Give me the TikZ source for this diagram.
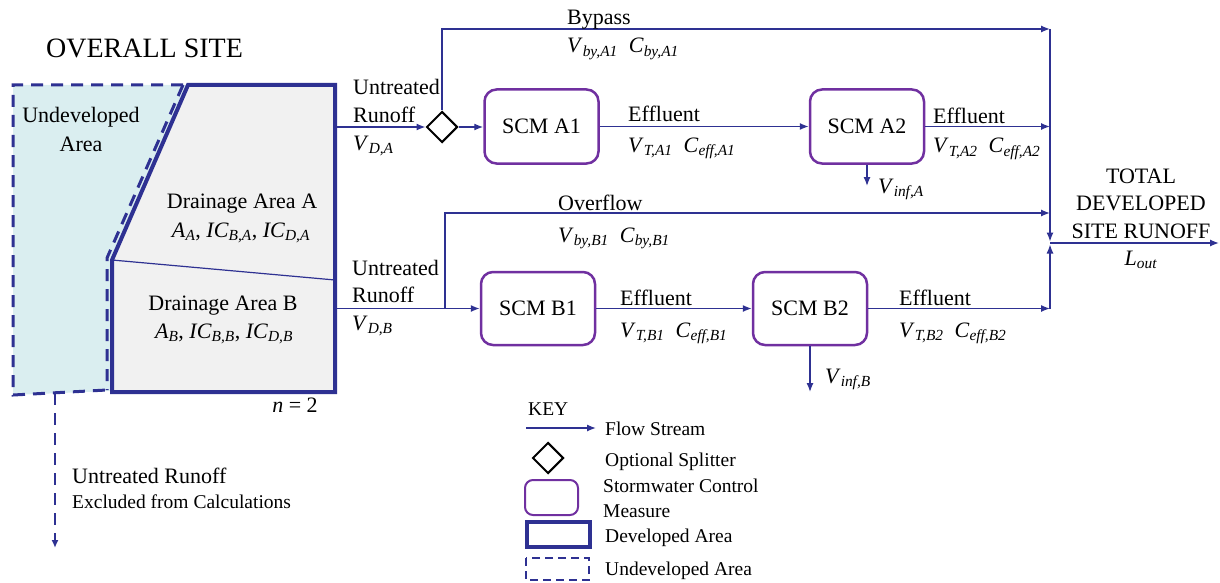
\documentclass[tikz,border=0pt]{standalone}
\usepackage{fontspec}
\setmainfont{LiberationSerif-Regular.ttf}[ItalicFont=LiberationSerif-Italic.ttf, BoldFont=LiberationSerif-Bold.ttf, BoldItalicFont=LiberationSerif-BoldItalic.ttf]
\usetikzlibrary{arrows.meta,shapes.geometric}
\definecolor{navy}{RGB}{46,49,146}
\definecolor{purp}{RGB}{112,48,160}
\definecolor{ltblue}{RGB}{218,238,240}
\definecolor{ltgray}{RGB}{241,241,241}
\newcommand\vv[2]{\textit{#1}\textsubscript{\textit{#2}}}
\begin{document}
\begin{tikzpicture}[x=1pt,y=-1pt,
  txt/.style={font=\fontsize{22}{26}\selectfont, inner sep=0pt},
  keytxt/.style={font=\fontsize{19.5}{23}\selectfont, inner sep=0pt},
  flow/.style={draw=navy, line width=1.3pt, -{Latex[length=9pt,width=7pt]}},
  scm/.style={draw=purp, line width=2.5pt, rounded corners=12pt, minimum width=114pt, minimum height=74pt, inner sep=0pt, font=\fontsize{22}{26}\selectfont},
  split/.style={diamond, draw=black, line width=2pt, minimum size=31pt, inner sep=0pt}]
\useasboundingbox (0,0) rectangle (1220,583);

% ---------- site ----------
\fill[ltblue] (13,85) -- (186,85) -- (110,260) -- (110,391) -- (13,395) -- cycle;
\draw[navy, line width=4pt, fill=ltgray, line join=miter] (188,85) -- (335,85) -- (335,392) -- (112,392) -- (112,260) -- cycle;
\draw[navy, line width=1.2pt] (112,260) -- (335,280);
\draw[navy, line width=3pt, dash pattern=on 12pt off 8pt] (183,85) -- (13,85) -- (13,395) -- (107,390);
\draw[navy, line width=3pt, dash pattern=on 12pt off 8pt] (183,85) -- (107,258) -- (107,390);
\coordinate (undevOut) at (55,393);
\coordinate (undevEnd) at (55,548);
\draw[navy, line width=2pt, dash pattern=on 12pt off 8pt, -{Latex[length=8pt,width=7pt]}] (undevOut) -- (undevEnd);

\node[txt, font=\fontsize{28}{32}\selectfont, anchor=base west] (title) at (46,58) {OVERALL SITE};
\node[txt, anchor=base] (undev1) at (81,123) {Undeveloped};
\node[txt, anchor=base] (undev2) at (81,151) {Area};
\node[txt, anchor=base] (daA) at (242,208) {Drainage Area A};
\node[txt, anchor=base] (daAp) at (241,237) {\vv{A}{A}, \vv{IC}{B,A}, \vv{IC}{D,A}};
\node[txt, anchor=base] (daB) at (223,310) {Drainage Area B};
\node[txt, anchor=base] (daBp) at (224,338) {\vv{A}{B}, \vv{IC}{B,B}, \vv{IC}{D,B}};
\node[txt, anchor=base] (nn) at (295,412) {\textit{n} = 2};
\node[txt, anchor=base west] (excl1) at (72,483) {Untreated Runoff};
\node[keytxt, anchor=base west] (excl2) at (72,508) {Excluded from Calculations};

% ---------- stream A ----------
\coordinate (devA) at (335,127);
\node[split] (split) at (442,127) {};
\node[scm] (A1) at (541.5,126.5) {SCM A1};
\node[scm] (A2) at (867,126.5) {SCM A2};
\coordinate (J) at (1050,243);
\coordinate (byA) at (1050,29);
\coordinate (infA) at (867,186);

\draw[flow] (devA) -- (split.west);
\draw[flow] (split.east) -- (split.east -| A1.west);
\draw[flow] (split.north) |- (byA);
\draw[flow] (A1.east) -- (A2.west);
\draw[flow] (A2.east) -- (A2.east -| J);
\draw[flow] (A2.south) -- (infA);

\node[txt, anchor=base west] (unA1) at (353,95) {Untreated};
\node[txt, anchor=base west] (unA2) at (353,123) {Runoff};
\node[txt, anchor=base west] (vdA) at (353,150) {\vv{V}{D,A}};
\node[txt, anchor=base west] (byL) at (567,25) {Bypass};
\node[txt, anchor=base west] (byV) at (567,53) {\vv{V}{by,A1}\enspace\vv{C}{by,A1}};
\node[txt, anchor=base west] (efA1) at (628,122) {Effluent};
\node[txt, anchor=base west] (efA1v) at (628,152) {\vv{V}{T,A1}\enspace\vv{C}{eff,A1}};
\node[txt, anchor=base west] (efA2) at (933,124) {Effluent};
\node[txt, anchor=base west] (efA2v) at (933,153) {\vv{V}{T,A2}\enspace\vv{C}{eff,A2}};
\node[txt, anchor=base west] (infAl) at (878,193) {\vv{V}{inf,A}};

% ---------- stream B ----------
\coordinate (devB) at (335,308.5);
\coordinate (ovB) at (445,308.5);
\coordinate (ovEnd) at (1050,213);
\node[scm, minimum height=73pt] (B1) at (538,308.5) {SCM B1};
\node[scm, minimum height=73pt] (B2) at (810,308.5) {SCM B2};
\coordinate (infB) at (810,392);

\draw[flow] (devB) -- (B1.west);
\draw[flow] (ovB) |- (ovEnd);
\draw[flow] (B1.east) -- (B2.west);
\draw[flow] (B2.east) -- (B2.east -| J);
\draw[flow] (B2.south) -- (infB);

\node[txt, anchor=base west] (unB1) at (352,275) {Untreated};
\node[txt, anchor=base west] (unB2) at (352,302) {Runoff};
\node[txt, anchor=base west] (vdB) at (352,330) {\vv{V}{D,B}};
\node[txt, anchor=base west] (ovL) at (558,210) {Overflow};
\node[txt, anchor=base west] (ovV) at (558,242) {\vv{V}{by,B1}\enspace\vv{C}{by,B1}};
\node[txt, anchor=base west] (efB1) at (620,305) {Effluent};
\node[txt, anchor=base west] (efB1v) at (620,337) {\vv{V}{T,B1}\enspace\vv{C}{eff,B1}};
\node[txt, anchor=base west] (efB2) at (899,305) {Effluent};
\node[txt, anchor=base west] (efB2v) at (899,337) {\vv{V}{T,B2}\enspace\vv{C}{eff,B2}};
\node[txt, anchor=base west] (infBl) at (825,383) {\vv{V}{inf,B}};

% ---------- collector ----------
\coordinate (out) at (1219,243);
\draw[flow, shorten >=1.5pt] (byA) -- (J);
\draw[flow, shorten >=1.5pt] (J |- B2.east) -- (J);
\draw[flow] (J) -- (out);
\node[txt, anchor=base] (tot1) at (1141,183) {TOTAL};
\node[txt, anchor=base] (tot2) at (1141,210) {DEVELOPED};
\node[txt, anchor=base] (tot3) at (1141,238) {SITE RUNOFF};
\node[txt, anchor=base] (lout) at (1141,265) {\vv{L}{out}};

% ---------- key ----------
\node[keytxt, anchor=base west] (key) at (528,415) {KEY};
\coordinate (kf1) at (526,428);
\coordinate (kf2) at (596,428);
\draw[flow] (kf1) -- (kf2);
\node[keytxt, anchor=base west] (k1) at (605,435) {Flow Stream};
\node[split] (ksplit) at (548,458) {};
\node[keytxt, anchor=base west] (k2) at (605,466) {Optional Splitter};
\draw[purp, line width=2pt, rounded corners=8pt] (525,480) rectangle (578,515);
\node[keytxt, anchor=base west] (k3a) at (603,492) {Stormwater Control};
\node[keytxt, anchor=base west] (k3b) at (603,517) {Measure};
\draw[navy, line width=4pt] (527,522) rectangle (590,547);
\node[keytxt, anchor=base west] (k4) at (605,542) {Developed Area};
\draw[navy, line width=1.3pt, dash pattern=on 8pt off 5pt] (526,558) rectangle (589,580);
\node[keytxt, anchor=base west] (k5) at (605,575) {Undeveloped Area};
\end{tikzpicture}
\end{document}
